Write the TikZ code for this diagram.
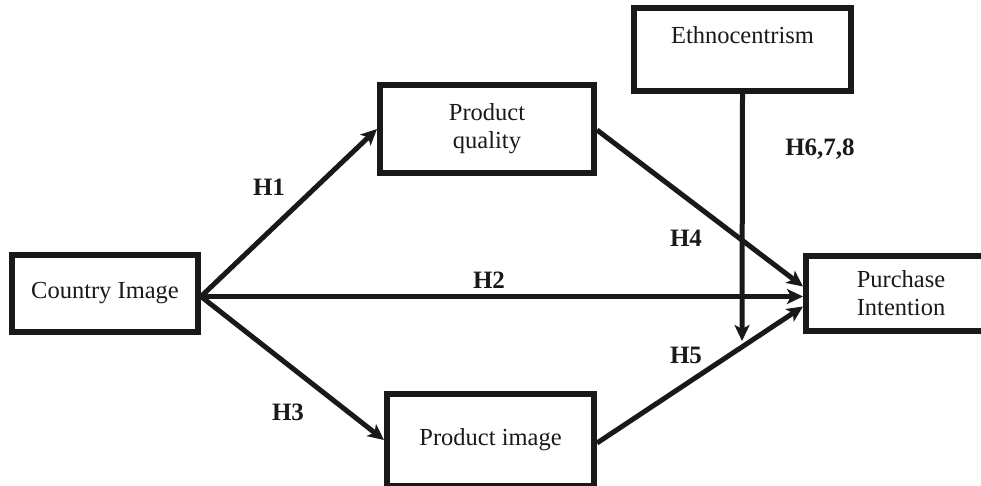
\documentclass[tikz,border=0pt]{standalone}
\usepackage{fontspec}
\setmainfont{Liberation Serif}
\usetikzlibrary{arrows.meta,calc}
\begin{document}
\begin{tikzpicture}[x=1pt,y=-1pt,
  box/.style={draw=black!90, line width=6pt, rectangle, inner sep=0pt, align=center,
    font=\fontsize{24.5}{28}\selectfont, text=black!90},
  conn/.style={draw=black!90, line width=5pt, -{Stealth[length=16pt,width=15pt,inset=4pt]}},
  hlab/.style={font=\fontsize{25}{28}\selectfont\bfseries, text=black!90, inner sep=0pt}]
\useasboundingbox (0,0) rectangle (981,486);
\clip (0,0) rectangle (981,486);
% boxes
\node[box, minimum width=186pt, minimum height=77pt] (ci) at (105,293.5) {Country Image};
\node[box, minimum width=214pt, minimum height=88pt] (pq) at (487,129) {Product\\quality};
\node[box, minimum width=207pt, minimum height=92pt] (pim) at (490.5,440) {Product image};
\node[box, minimum width=217pt, minimum height=83pt] (eth) at (742.5,49.5) {Ethnocentrism\\\mbox{}};
\node[box, minimum width=190pt, minimum height=75pt] (pint) at (901,293.5) {Purchase\\Intention};
% moderator end
\coordinate (mod) at (742,341);
\coordinate (src) at ($(ci.east)+(0,3)$);
% connectors
\draw[conn] (src) -- (pq.west);
\draw[conn] (src) -- ($(pint.west)+(0,3)$);
\draw[conn] (src) -- (pim.west);
\draw[conn] ($(pq.east)+(0,1)$) -- ($(pint.west)+(0,-7)$);
\draw[conn] ($(pim.east)+(0,3)$) -- ($(pint.west)+(0,13)$);
\draw[conn] (eth.south) -- (mod);
% labels
\node[hlab] (h1) at (269,187) {H1};
\node[hlab] (h2) at (489,280) {H2};
\node[hlab] (h3) at (288,412) {H3};
\node[hlab] (h4) at (686,238) {H4};
\node[hlab] (h5) at (686,355) {H5};
\node[hlab] (h6) at (820,149) {H6,7,8};
\end{tikzpicture}
\end{document}
